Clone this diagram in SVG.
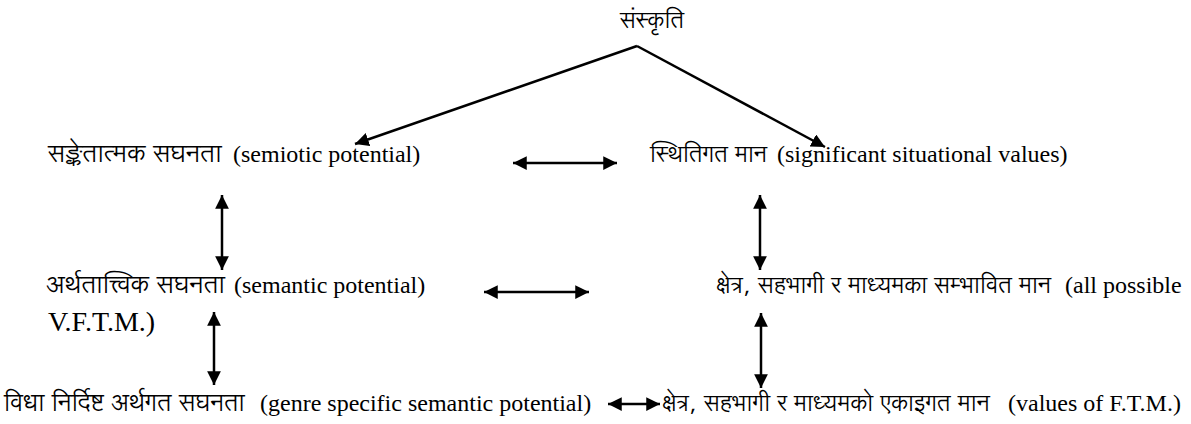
<svg xmlns="http://www.w3.org/2000/svg" width="1191" height="424" viewBox="0 0 1191 424">
<style>
.ln{stroke:#000;stroke-width:2.5;fill:none}
</style>
<defs>
<marker id="ah" viewBox="0 0 10 10" refX="10" refY="5" markerWidth="5.5" markerHeight="5.5" orient="auto-start-reverse" markerUnits="strokeWidth">
<path d="M0,0 L10,5 L0,10 z" fill="#000"/>
</marker>
</defs>
<rect width="1191" height="424" fill="#fff"/>
<g id="n-culture"><text font-family="Lohit Devanagari, serif" font-size="23" x="652" y="28" text-anchor="middle">संस्कृति</text></g>
<g id="n-semiotic"><text font-family="Lohit Devanagari, serif" font-size="25" x="48" y="162">सङ्केतात्मक सघनता</text><text font-family="Liberation Serif, serif" font-size="24" x="233" y="162">(semiotic potential)</text></g>
<g id="n-situational"><text font-family="Lohit Devanagari, serif" font-size="23" x="650" y="162">स्थितिगत मान</text><text font-family="Liberation Serif, serif" font-size="24" x="777" y="162">(significant situational values)</text></g>
<g id="n-semantic"><text font-family="Lohit Devanagari, serif" font-size="25" x="46" y="293">अर्थतात्त्विक सघनता</text><text font-family="Liberation Serif, serif" font-size="24" x="234" y="293">(semantic potential)</text></g>
<g id="n-possible"><text font-family="Lohit Devanagari, serif" font-size="23" x="716" y="293">क्षेत्र, सहभागी र माध्यमका सम्भावित मान</text><text font-family="Liberation Serif, serif" font-size="24" x="1065" y="293">(all possible</text><text font-family="Liberation Serif, serif" font-size="28" x="48" y="331">V.F.T.M.)</text></g>
<g id="n-genre"><text font-family="Lohit Devanagari, serif" font-size="24" x="4" y="411">विधा निर्दिष्ट अर्थगत सघनता</text><text font-family="Liberation Serif, serif" font-size="24" x="260" y="411">(genre specific semantic potential)</text></g>
<g id="n-ftm"><text font-family="Lohit Devanagari, serif" font-size="23" x="662" y="411">क्षेत्र, सहभागी र माध्यमको एकाइगत मान</text><text font-family="Liberation Serif, serif" font-size="24" x="1008" y="411">(values of F.T.M.)</text></g>
<g id="connectors">
<line class="ln" x1="637" y1="46" x2="355" y2="144" marker-end="url(#ah)"/>
<line class="ln" x1="637" y1="46" x2="825" y2="147" marker-end="url(#ah)"/>
<line class="ln" x1="513" y1="163" x2="617" y2="163" marker-start="url(#ah)" marker-end="url(#ah)"/>
<line class="ln" x1="222" y1="195" x2="222" y2="270" marker-start="url(#ah)" marker-end="url(#ah)"/>
<line class="ln" x1="760" y1="195" x2="760" y2="270" marker-start="url(#ah)" marker-end="url(#ah)"/>
<line class="ln" x1="484" y1="292" x2="589" y2="292" marker-start="url(#ah)" marker-end="url(#ah)"/>
<line class="ln" x1="214" y1="312" x2="214" y2="385" marker-start="url(#ah)" marker-end="url(#ah)"/>
<line class="ln" x1="761" y1="313" x2="761" y2="388" marker-start="url(#ah)" marker-end="url(#ah)"/>
<line class="ln" x1="608" y1="404" x2="660" y2="404" marker-start="url(#ah)" marker-end="url(#ah)"/>
</g>
</svg>
